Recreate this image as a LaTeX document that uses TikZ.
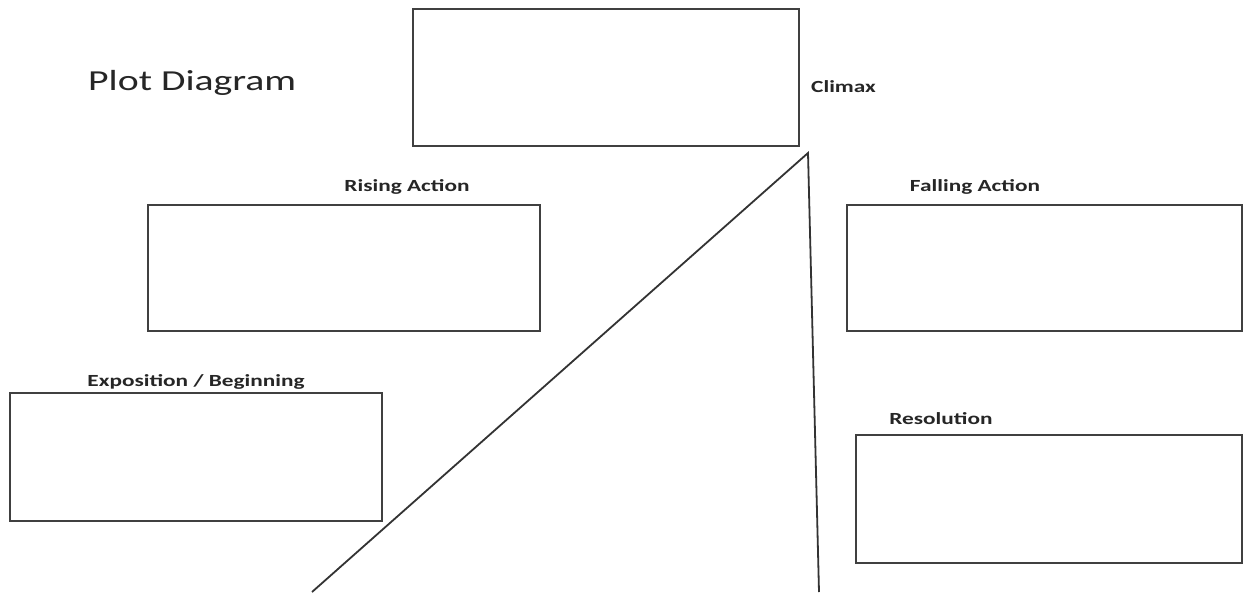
\documentclass[tikz,border=0pt]{standalone}
\usepackage{fontspec}
\setmainfont{Carlito}
\newcommand{\wide}[1]{\scalebox{1.37}[1]{#1}}
\begin{document}
\begin{tikzpicture}[x=1pt,y=-1pt,
  box/.style={draw=black!75,line width=1.8pt,inner sep=0pt},
  lbl/.style={font=\bfseries\fontsize{17}{20}\selectfont,text=black!85,inner sep=0pt},
  plotline/.style={draw=black!80,line width=1.8pt}]
\useasboundingbox[fill=white] (0,0) rectangle (1244,594);
% boxes
\node[box,minimum width=386pt,minimum height=137pt] (climaxbox) at (606,77.5) {};
\node[box,minimum width=392pt,minimum height=126pt] (risingbox) at (344,268) {};
\node[box,minimum width=395pt,minimum height=126pt] (fallingbox) at (1044.5,268) {};
\node[box,minimum width=372pt,minimum height=128pt] (expobox) at (196,457) {};
\node[box,minimum width=386pt,minimum height=128pt] (resbox) at (1049,499) {};
% labels
\node[font=\fontsize{29}{34}\selectfont,text=black!85,anchor=west,inner sep=0pt] (title) at (88,83) {\wide{Plot Diagram}};
\node[lbl,anchor=west] (climax) at (811,87) {\wide{Climax}};
\node[lbl] (rising) at (407,187) {\wide{Rising Action}};
\node[lbl] (falling) at (975,187) {\wide{Falling Action}};
\node[lbl] (expo) at (196,382) {\wide{Exposition / Beginning}};
\node[lbl] (res) at (941,419) {\wide{Resolution}};
% plot line
\coordinate (start) at (312,592);
\coordinate (peak) at (808,153);
\coordinate (finish) at (819,592);
\draw[plotline] (start) -- (peak) -- (finish);
\end{tikzpicture}
\end{document}
